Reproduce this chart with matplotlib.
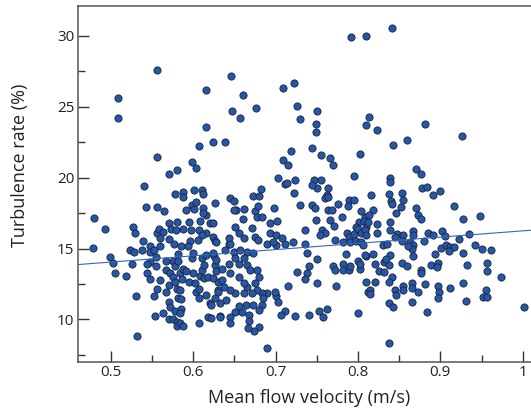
import matplotlib
matplotlib.use("Agg")
import matplotlib.pyplot as plt
from matplotlib.ticker import FixedLocator, FixedFormatter
import numpy as np

# (mean flow velocity m/s, turbulence rate %), by region
pts_top = [(0.556,27.6),(0.509,25.63),(0.508,24.18),(0.616,26.15),(0.616,23.6),
    (0.792,29.9),(0.810,29.97),(0.841,30.53),(0.646,27.18),(0.660,25.85),(0.709,26.29),
    (0.722,26.66),(0.647,24.69),(0.657,24.18),(0.676,24.9),(0.726,25.04),(0.750,24.69),
    (0.730,24.1),(0.749,23.75),(0.813,24.27),(0.810,23.68),(0.823,23.38),(0.881,23.8)]

pts_left_mid = [(0.624,22.51),(0.607,22.2),(0.556,21.45),(0.599,21.1),(0.603,20.68),
    (0.571,20.28),(0.580,20.51),(0.540,19.44),(0.578,18.85),(0.588,18.99),(0.588,18.61),
    (0.601,19.13),(0.611,19.13),(0.612,18.82),(0.626,18.19),(0.543,17.96),(0.556,17.96),
    (0.565,17.63),(0.591,17.7),(0.599,18.1),(0.603,18.26),(0.601,17.82),(0.612,17.89),
    (0.616,17.35),(0.612,17.5),(0.480,17.16),(0.493,16.36),(0.527,16.5),(0.529,16.13),
    (0.570,16.78),(0.580,16.87),(0.595,16.87),(0.608,16.94),(0.620,16.78),(0.556,16.13),
    (0.558,16.36),(0.563,16.2),(0.560,15.77),(0.573,16.36),(0.579,16.34),(0.587,16.36),
    (0.570,15.68),(0.597,16.29),(0.607,16.29),(0.616,16.13),(0.611,15.94),(0.624,15.82),
    (0.626,15.54),(0.606,15.58),(0.596,15.54),(0.577,15.3),(0.539,15.54),(0.548,15.16),
    (0.478,15.04),(0.523,14.93)]

pts_left_low = [(0.499,14.41),(0.502,13.99),(0.505,13.24),(0.518,13.07),(0.525,13.94),
    (0.528,14.76),(0.538,14.88),(0.530,11.66),(0.532,8.85),(0.548,14.76),(0.548,14.06),
    (0.544,13.89),(0.544,13.24),(0.548,12.82),(0.552,11.66),(0.554,10.25),(0.555,14.41),
    (0.555,13.75),(0.559,12.77),(0.556,12.18),(0.563,10.49),(0.567,14.1),(0.567,13.47),
    (0.570,12.42),(0.567,11.94),(0.570,11.2),(0.572,10.89),(0.570,10.02),(0.575,10.02),
    (0.578,10.58),(0.580,9.83),(0.580,9.53),(0.584,9.72),(0.587,9.53),(0.575,14.13),
    (0.578,13.75),(0.572,13.24),(0.575,12.96),(0.578,12.65),(0.582,14.58),(0.582,14.1),
    (0.584,13.24),(0.586,12.82),(0.580,12.18),(0.584,12.11),(0.582,11.52),(0.585,11.41),
    (0.585,10.77),(0.584,10.42),(0.588,13.59),(0.591,13.4),(0.595,12.65),(0.600,13.24),
    (0.598,14.3),(0.600,14.65),(0.602,12.54),(0.603,11.94),(0.607,12.18),(0.607,11.48),
    (0.608,13.05),(0.610,13.47),(0.613,13.82),(0.611,14.3),(0.616,14.53),(0.613,12.89),
    (0.618,12.96),(0.616,11.71),(0.620,11.17),(0.622,11.01),(0.618,10.14),(0.622,10.07),
    (0.607,9.72),(0.594,15.16),(0.585,15.16),(0.625,14.46),(0.626,13.82),(0.628,13.42),
    (0.630,12.65),(0.630,12.11),(0.632,10.23),(0.552,14.93),(0.560,15.16)]

pts_center_low = [(0.628,15.47),(0.643,15.35),(0.639,14.88),(0.649,14.76),(0.657,14.88),
    (0.665,14.76),(0.673,14.69),(0.690,15.35),(0.701,15.23),(0.711,15.3),(0.736,15.35),
    (0.738,14.65),(0.750,14.23),(0.741,13.75),(0.738,13.24),(0.735,12.82),(0.726,13.35),
    (0.750,12.58),(0.715,12.35),(0.773,12.35),(0.770,13.75),(0.772,13.47),(0.782,13.89),
    (0.782,13.47),(0.789,13.47),(0.790,13.75),(0.800,14.13),(0.802,13.59),(0.785,14.6),
    (0.810,14.46),(0.810,12.65),(0.812,11.94),(0.800,10.47),(0.762,10.77),(0.752,10.61),
    (0.758,10.14),(0.741,10.3),(0.723,10.23),(0.711,10.61),(0.706,10.3),(0.690,7.96),
    (0.701,11.64),(0.703,11.2),(0.699,11.94),(0.690,11.87),(0.683,11.83),(0.685,11.48),
    (0.684,11.01),(0.680,13.0),(0.675,12.54),(0.677,12.06),(0.671,11.83),(0.665,12.3),
    (0.661,11.83),(0.664,11.01),(0.673,11.01),(0.680,10.65),(0.668,10.3),(0.659,10.54),
    (0.651,10.54),(0.644,10.14),(0.644,9.76),(0.632,10.14),(0.668,9.9),(0.680,9.44),
    (0.674,9.2),(0.667,9.37),(0.656,10.94),(0.651,11.83),(0.645,12.06),(0.637,12.3),
    (0.630,11.94),(0.640,11.36),(0.632,11.13),(0.626,11.48),(0.624,12.89),(0.635,12.77),
    (0.645,13.24),(0.655,13.0),(0.661,12.54),(0.635,13.59),(0.643,13.94),(0.655,13.94),
    (0.665,13.82),(0.669,13.52),(0.677,13.52),(0.628,14.18),(0.624,14.65),(0.661,14.3),
    (0.651,14.3)]

pts_center_mid = [(0.749,23.21),(0.639,22.51),(0.744,22.11),(0.719,21.87),(0.755,21.62),
    (0.766,21.38),(0.769,20.87),(0.802,21.69),(0.709,21.22),(0.715,20.87),(0.795,20.09),
    (0.703,20.0),(0.711,19.58),(0.714,19.65),(0.724,19.86),(0.746,19.81),(0.755,19.81),
    (0.750,19.27),(0.744,19.46),(0.722,18.92),(0.763,19.27),(0.762,18.75),(0.760,18.59),
    (0.764,18.63),(0.776,18.17),(0.789,18.45),(0.795,18.4),(0.788,17.98),(0.682,19.18),
    (0.672,18.68),(0.680,18.68),(0.645,18.59),(0.650,18.35),(0.652,17.75),(0.661,17.82),
    (0.649,17.7),(0.675,17.65),(0.678,18.03),(0.698,17.89),(0.730,18.05),(0.744,18.05),
    (0.748,17.89),(0.764,17.7),(0.768,17.75),(0.780,17.23),(0.804,17.65),(0.808,17.23),
    (0.677,17.23),(0.683,17.23),(0.660,17.06),(0.693,16.8),(0.702,16.94),(0.749,16.99),
    (0.766,16.99),(0.771,16.57),(0.801,16.87),(0.807,16.94),(0.798,16.52),(0.810,16.52),
    (0.651,16.52),(0.671,16.48),(0.624,16.8),(0.655,16.1),(0.661,15.77),(0.675,15.82),
    (0.678,15.63),(0.693,16.06),(0.701,15.94),(0.697,15.47),(0.708,15.77),(0.735,16.29),
    (0.756,16.29),(0.760,16.1),(0.754,15.94),(0.772,15.63),(0.786,16.06),(0.789,15.82),
    (0.795,15.99),(0.800,16.41),(0.804,16.06),(0.808,16.29),(0.810,15.94),(0.790,15.47),
    (0.798,15.54),(0.804,15.47),(0.782,15.47),(0.721,15.47),(0.643,15.77),(0.645,15.3)]

pts_right_mid = [(0.926,22.93),(0.842,22.27),(0.860,22.63),(0.870,20.58),(0.876,20.28),
    (0.839,20.0),(0.839,19.69),(0.878,19.27),(0.884,19.34),(0.899,19.06),(0.891,18.75),
    (0.816,18.75),(0.838,18.87),(0.853,18.92),(0.855,18.45),(0.840,18.33),(0.841,18.12),
    (0.852,17.93),(0.846,17.51),(0.870,17.89),(0.873,17.35),(0.877,17.06),(0.917,17.98),
    (0.928,17.06),(0.948,17.3),(0.818,17.7),(0.813,17.35),(0.812,16.87),(0.823,16.71),
    (0.839,16.87),(0.839,16.34),(0.823,16.06),(0.867,16.24),(0.867,15.94),(0.847,16.01),
    (0.855,15.94),(0.845,15.82),(0.885,16.1),(0.891,15.94),(0.902,16.24),(0.906,15.89),
    (0.922,15.7),(0.935,16.01),(0.880,15.54),(0.853,15.54),(0.863,15.47),(0.867,15.23),
    (0.830,15.23),(0.835,15.3),(0.806,15.23),(0.865,15.0),(0.901,15.07),(0.907,15.23),
    (0.912,15.11),(0.917,15.11),(0.942,15.23),(0.950,14.95),(0.962,14.88)]

pts_right_low = [(0.861,15.16),(0.867,14.46),(0.808,14.53),(0.818,14.6),(0.802,13.94),
    (0.820,13.94),(0.832,14.06),(0.839,14.53),(0.838,13.82),(0.834,14.23),(0.826,13.42),
    (0.832,13.35),(0.841,13.0),(0.837,12.65),(0.820,12.65),(0.815,12.11),(0.815,11.76),
    (0.837,11.17),(0.843,10.85),(0.837,8.35),(0.853,13.99),(0.859,13.75),(0.845,12.06),
    (0.846,11.71),(0.854,12.35),(0.855,12.11),(0.865,12.54),(0.866,12.23),(0.873,11.94),
    (0.865,11.24),(0.877,13.52),(0.877,13.28),(0.881,12.49),(0.884,10.54),(0.889,13.82),
    (0.894,14.6),(0.897,13.99),(0.896,13.7),(0.897,12.35),(0.898,11.94),(0.897,11.48),
    (0.910,14.83),(0.912,12.25),(0.927,14.65),(0.932,13.87),(0.927,12.54),(0.931,11.31),
    (0.957,13.99),(0.957,13.42),(0.974,13.0),(0.955,12.11),(0.952,11.59),(0.956,11.59),
    (1.002,10.85)]

# fitted trend line end points
trend_x = [0.46, 1.01]
trend_y = [13.87, 16.29]

x_ticks = [0.5, 0.6, 0.7, 0.8, 0.9, 1.0]
x_tick_labels = ["0.5", "0.6", "0.7", "0.8", "0.9", "1"]
x_minor = [0.55, 0.65, 0.75, 0.85, 0.95]
y_ticks = [10, 15, 20, 25, 30]
y_minor = [7.5, 12.5, 17.5, 22.5, 27.5]

all_pts = (pts_top + pts_left_mid + pts_left_low + pts_center_low +
           pts_center_mid + pts_right_mid + pts_right_low)
vel = np.array([p[0] for p in all_pts])
rate = np.array([p[1] for p in all_pts])

plt.rcParams['font.family'] = ['Open Sans', 'DejaVu Sans']

fig = plt.figure(figsize=(5.31, 4.12), dpi=100)
ax = fig.add_axes([78/531, 1 - 362/412, 1 - 78/531, (362 - 6)/412])

ax.plot(trend_x, trend_y, color='#3166c6', lw=0.8, zorder=3)
ax.scatter(vel, rate, s=27, facecolor='#2557a7', edgecolor='#1b2238',
           linewidths=0.6, zorder=2)

ax.set_xlim(0.46, 1.01)
ax.set_ylim(7.0, 32.1)

ax.xaxis.set_major_locator(FixedLocator(x_ticks))
ax.xaxis.set_major_formatter(FixedFormatter(x_tick_labels))
ax.xaxis.set_minor_locator(FixedLocator(x_minor))
ax.yaxis.set_major_locator(FixedLocator(y_ticks))
ax.yaxis.set_minor_locator(FixedLocator(y_minor))

ax.tick_params(axis='both', which='major', direction='in', length=8, width=1,
               color='#333333', labelsize=11, labelcolor='#222222', pad=2.5)
ax.tick_params(axis='both', which='minor', direction='in', length=5, width=1,
               color='#333333')
ax.tick_params(top=False, right=False, which='both')

for side in ['left', 'bottom', 'top']:
    ax.spines[side].set_color('#555555')
    ax.spines[side].set_linewidth(1.1)
ax.spines['right'].set_visible(False)

fig.text(309.5/531, 1 - 398/412, 'Mean flow velocity (m/s)', fontsize=13,
         color='#222222', ha='center', va='center')
fig.text(20/531, 1 - 165/412, 'Turbulence rate (%)', fontsize=13,
         color='#222222', ha='center', va='center', rotation=90)

fig.savefig('out.png', dpi=100)
